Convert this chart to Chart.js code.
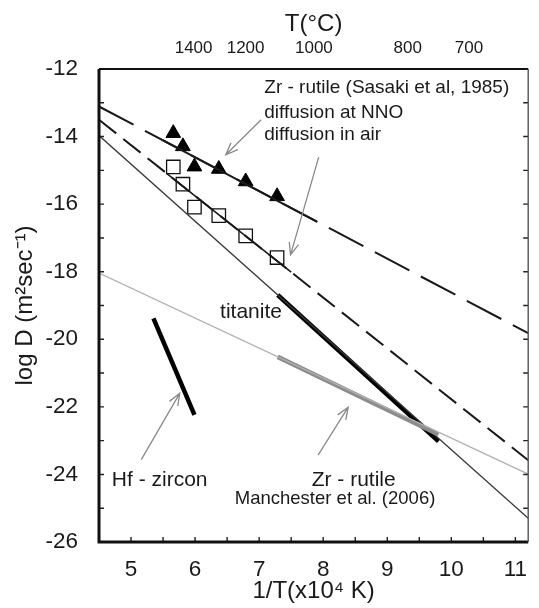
<!DOCTYPE html>
<html><head><meta charset="utf-8">
<script src="https://cdn.jsdelivr.net/npm/chart.js@4/dist/chart.umd.min.js"></script>
<style>html,body{margin:0;padding:0;background:#fff}</style>
</head><body>
<canvas id="c" width="539" height="608"></canvas>
<script>
// ---------- data ----------
const tempTicksC = [1400, 1200, 1000, 800, 700];           // top axis, deg C
const xTicks = [5, 6, 7, 8, 9, 10, 11];
const yTicks = [-26, -24, -22, -20, -18, -16, -14, -12];

const invT_nno = [5.66, 5.81, 5.99, 6.37, 6.79, 7.28];
const logD_nno = [-13.90, -14.29, -14.89, -14.96, -15.33, -15.77];
const invT_air = [5.66, 5.81, 5.99, 6.37, 6.79, 7.28];
const logD_air = [-14.90, -15.41, -16.09, -16.34, -16.94, -17.58];

// fitted / published lines: [x0, x1], [y0, y1]
const nnoLineX = [4.5, 11.2],  nnoLineY = [-13.11, -19.82];
const nnoFitX  = [5.5, 7.9],   nnoFitY  = [-14.11, -16.52];
const airLineX = [4.5, 11.2],  airLineY = [-13.50, -23.58];
const airFitX  = [5.55, 7.5],  airFitY  = [-15.08, -18.01];
const titLineX = [4.5, 11.2],  titLineY = [-13.97, -25.30];
const titSegX  = [7.29, 9.80], titSegY  = [-18.69, -23.02];
const zrLineX  = [4.5, 11.2],  zrLineY  = [-18.04, -23.99];
const zrSegX   = [7.29, 9.80], zrSegY   = [-20.52, -22.82];
const hfSegX   = [5.35, 5.99], hfSegY   = [-19.38, -22.24];

// annotation texts and arrows (anchors in data units)
const labels = [
  {t: 'Zr - rutile (Sasaki et al, 1985)', x: 7.08, y: -12.56, s: 19},
  {t: 'diffusion at NNO', x: 7.08, y: -13.29, s: 19},
  {t: 'diffusion in air', x: 7.08, y: -13.95, s: 19},
  {t: 'titanite', x: 6.39, y: -19.21, s: 21},
  {t: 'Hf - zircon', x: 4.70, y: -24.17, s: 21},
  {t: 'Zr - rutile', x: 7.82, y: -24.17, s: 21},
  {t: 'Manchester et al. (2006)', x: 6.62, y: -24.71, s: 18.5}
];
const arrows = [
  {x0: 7.03, y0: -13.50, x1: 6.48, y1: -14.54},
  {x0: 7.93, y0: -14.61, x1: 7.49, y1: -17.50},
  {x0: 5.16, y0: -23.56, x1: 5.76, y1: -21.60},
  {x0: 7.92, y0: -23.43, x1: 8.39, y1: -22.01}
];

const FONT = '"Liberation Sans", Arial, sans-serif';
const pts = (xs, ys) => xs.map((x, i) => ({x, y: ys[i]}));
const lineDs = (xs, ys, color, width, dash) => ({
  data: pts(xs, ys), showLine: true, borderColor: color, borderWidth: width,
  borderDash: dash || [], pointRadius: 0, fill: false, borderCapStyle: 'butt'
});

const framePlugin = {
  id: 'frame',
  afterDatasetsDraw(chart) {
    const {ctx, chartArea: a, scales} = chart;
    const xs = scales.x, ys = scales.y;
    ctx.save();
    // annotation arrows
    ctx.strokeStyle = '#8a8a8a'; ctx.lineWidth = 1.3;
    arrows.forEach(ar => {
      const X0 = xs.getPixelForValue(ar.x0), Y0 = ys.getPixelForValue(ar.y0);
      const X1 = xs.getPixelForValue(ar.x1), Y1 = ys.getPixelForValue(ar.y1);
      const ang = Math.atan2(Y1 - Y0, X1 - X0), L = 13, w = 0.38;
      ctx.beginPath(); ctx.moveTo(X0, Y0); ctx.lineTo(X1, Y1);
      ctx.moveTo(X1 - L * Math.cos(ang - w), Y1 - L * Math.sin(ang - w)); ctx.lineTo(X1, Y1);
      ctx.lineTo(X1 - L * Math.cos(ang + w), Y1 - L * Math.sin(ang + w));
      ctx.stroke();
    });
    // texts
    ctx.fillStyle = '#1a1a1a'; ctx.textBaseline = 'middle'; ctx.textAlign = 'left';
    labels.forEach(l => {
      ctx.font = l.s + 'px ' + FONT;
      ctx.fillText(l.t, xs.getPixelForValue(l.x), ys.getPixelForValue(l.y));
    });
    // inward ticks
    ctx.strokeStyle = '#222'; ctx.lineWidth = 1.4;
    ctx.beginPath();
    for (let v = 5; v <= 11.001; v += 0.5) {
      const p = xs.getPixelForValue(v);
      ctx.moveTo(p, a.bottom); ctx.lineTo(p, a.bottom - 5);
    }
    for (let v = -25; v <= -13; v += 1) {
      const p = ys.getPixelForValue(v);
      ctx.moveTo(a.left, p); ctx.lineTo(a.left + 5, p);
      ctx.moveTo(a.right, p); ctx.lineTo(a.right - 5, p);
    }
    ctx.stroke();
    // frame
    ctx.strokeStyle = '#111';
    ctx.lineWidth = 3;
    ctx.beginPath(); ctx.moveTo(a.left, a.top); ctx.lineTo(a.left, a.bottom); ctx.lineTo(a.right, a.bottom); ctx.stroke();
    ctx.lineWidth = 2;
    ctx.beginPath(); ctx.moveTo(a.left, a.top); ctx.lineTo(a.right, a.top); ctx.stroke();
    ctx.lineWidth = 1.4; ctx.strokeStyle = '#555';
    ctx.beginPath(); ctx.moveTo(a.right, a.top); ctx.lineTo(a.right, a.bottom); ctx.stroke();
    ctx.restore();
  }
};

new Chart(document.getElementById('c'), {
  type: 'scatter',
  data: {
    datasets: [
      lineDs(zrLineX, zrLineY, '#b0b0b0', 1.3),
      lineDs(zrSegX, zrSegY, '#8c8c8c', 4.5),
      lineDs(titLineX, titLineY, '#3a3a3a', 1.3),
      lineDs(titSegX, titSegY, '#000', 4.5),
      lineDs(hfSegX, hfSegY, '#000', 4.5),
      lineDs(nnoLineX, nnoLineY, '#1a1a1a', 2, [39, 13]),
      lineDs(nnoFitX, nnoFitY, '#1a1a1a', 2),
      lineDs(airLineX, airLineY, '#1a1a1a', 2, [22, 9]),
      lineDs(airFitX, airFitY, '#1a1a1a', 1.6),
      {data: pts(invT_air, logD_air), pointStyle: 'rect', pointRadius: 9.5,
       pointBackgroundColor: '#fff', pointBorderColor: '#111', pointBorderWidth: 1.3},
      {data: pts(invT_nno, logD_nno), pointStyle: 'triangle', pointRadius: 8.5,
       pointBackgroundColor: '#000', pointBorderColor: '#000', pointBorderWidth: 1}
    ]
  },
  options: {
    responsive: false, animation: false, devicePixelRatio: 1,
    layout: {padding: {left: 0, right: 1, top: 0, bottom: 0}},
    plugins: {legend: {display: false}, tooltip: {enabled: false}},
    scales: {
      x: {
        type: 'linear', position: 'bottom', min: 4.5, max: 11.2,
        afterBuildTicks: s => { s.ticks = xTicks.map(v => ({value: v})); },
        afterFit: s => { s.height = 66; },
        grid: {display: false}, border: {display: false},
        ticks: {font: {size: 22.5, family: FONT}, color: '#1a1a1a', padding: 6, maxRotation: 0},
        title: {display: true, text: '1/T(x10⁴ K)', font: {size: 24, family: FONT}, color: '#1a1a1a', padding: {top: 0, bottom: 2}}
      },
      x2: {
        type: 'linear', position: 'top', min: 4.5, max: 11.2,
        afterBuildTicks: s => { s.ticks = tempTicksC.map(t => ({value: 1e4 / (t + 273.15)})); },
        afterFit: s => { s.height = 69; },
        grid: {display: false}, border: {display: false},
        ticks: {font: {size: 17, family: FONT}, color: '#1a1a1a', padding: 2, maxRotation: 0,
                callback: (v, i) => String(tempTicksC[i])},
        title: {display: true, text: 'T(°C)', font: {size: 24, family: FONT}, color: '#1a1a1a', padding: {top: 10, bottom: 0}}
      },
      y: {
        type: 'linear', position: 'left', min: -26, max: -12,
        afterBuildTicks: s => { s.ticks = yTicks.map(v => ({value: v})); },
        afterFit: s => { s.width = 99; },
        grid: {display: false}, border: {display: false},
        ticks: {font: {size: 22.5, family: FONT}, color: '#1a1a1a', padding: 13},
        title: {display: true, text: 'log D (m²sec⁻¹)', font: {size: 24, family: FONT}, color: '#1a1a1a', padding: {top: 10.5, bottom: 0}}
      }
    }
  },
  plugins: [framePlugin]
});
</script>
</body></html>
